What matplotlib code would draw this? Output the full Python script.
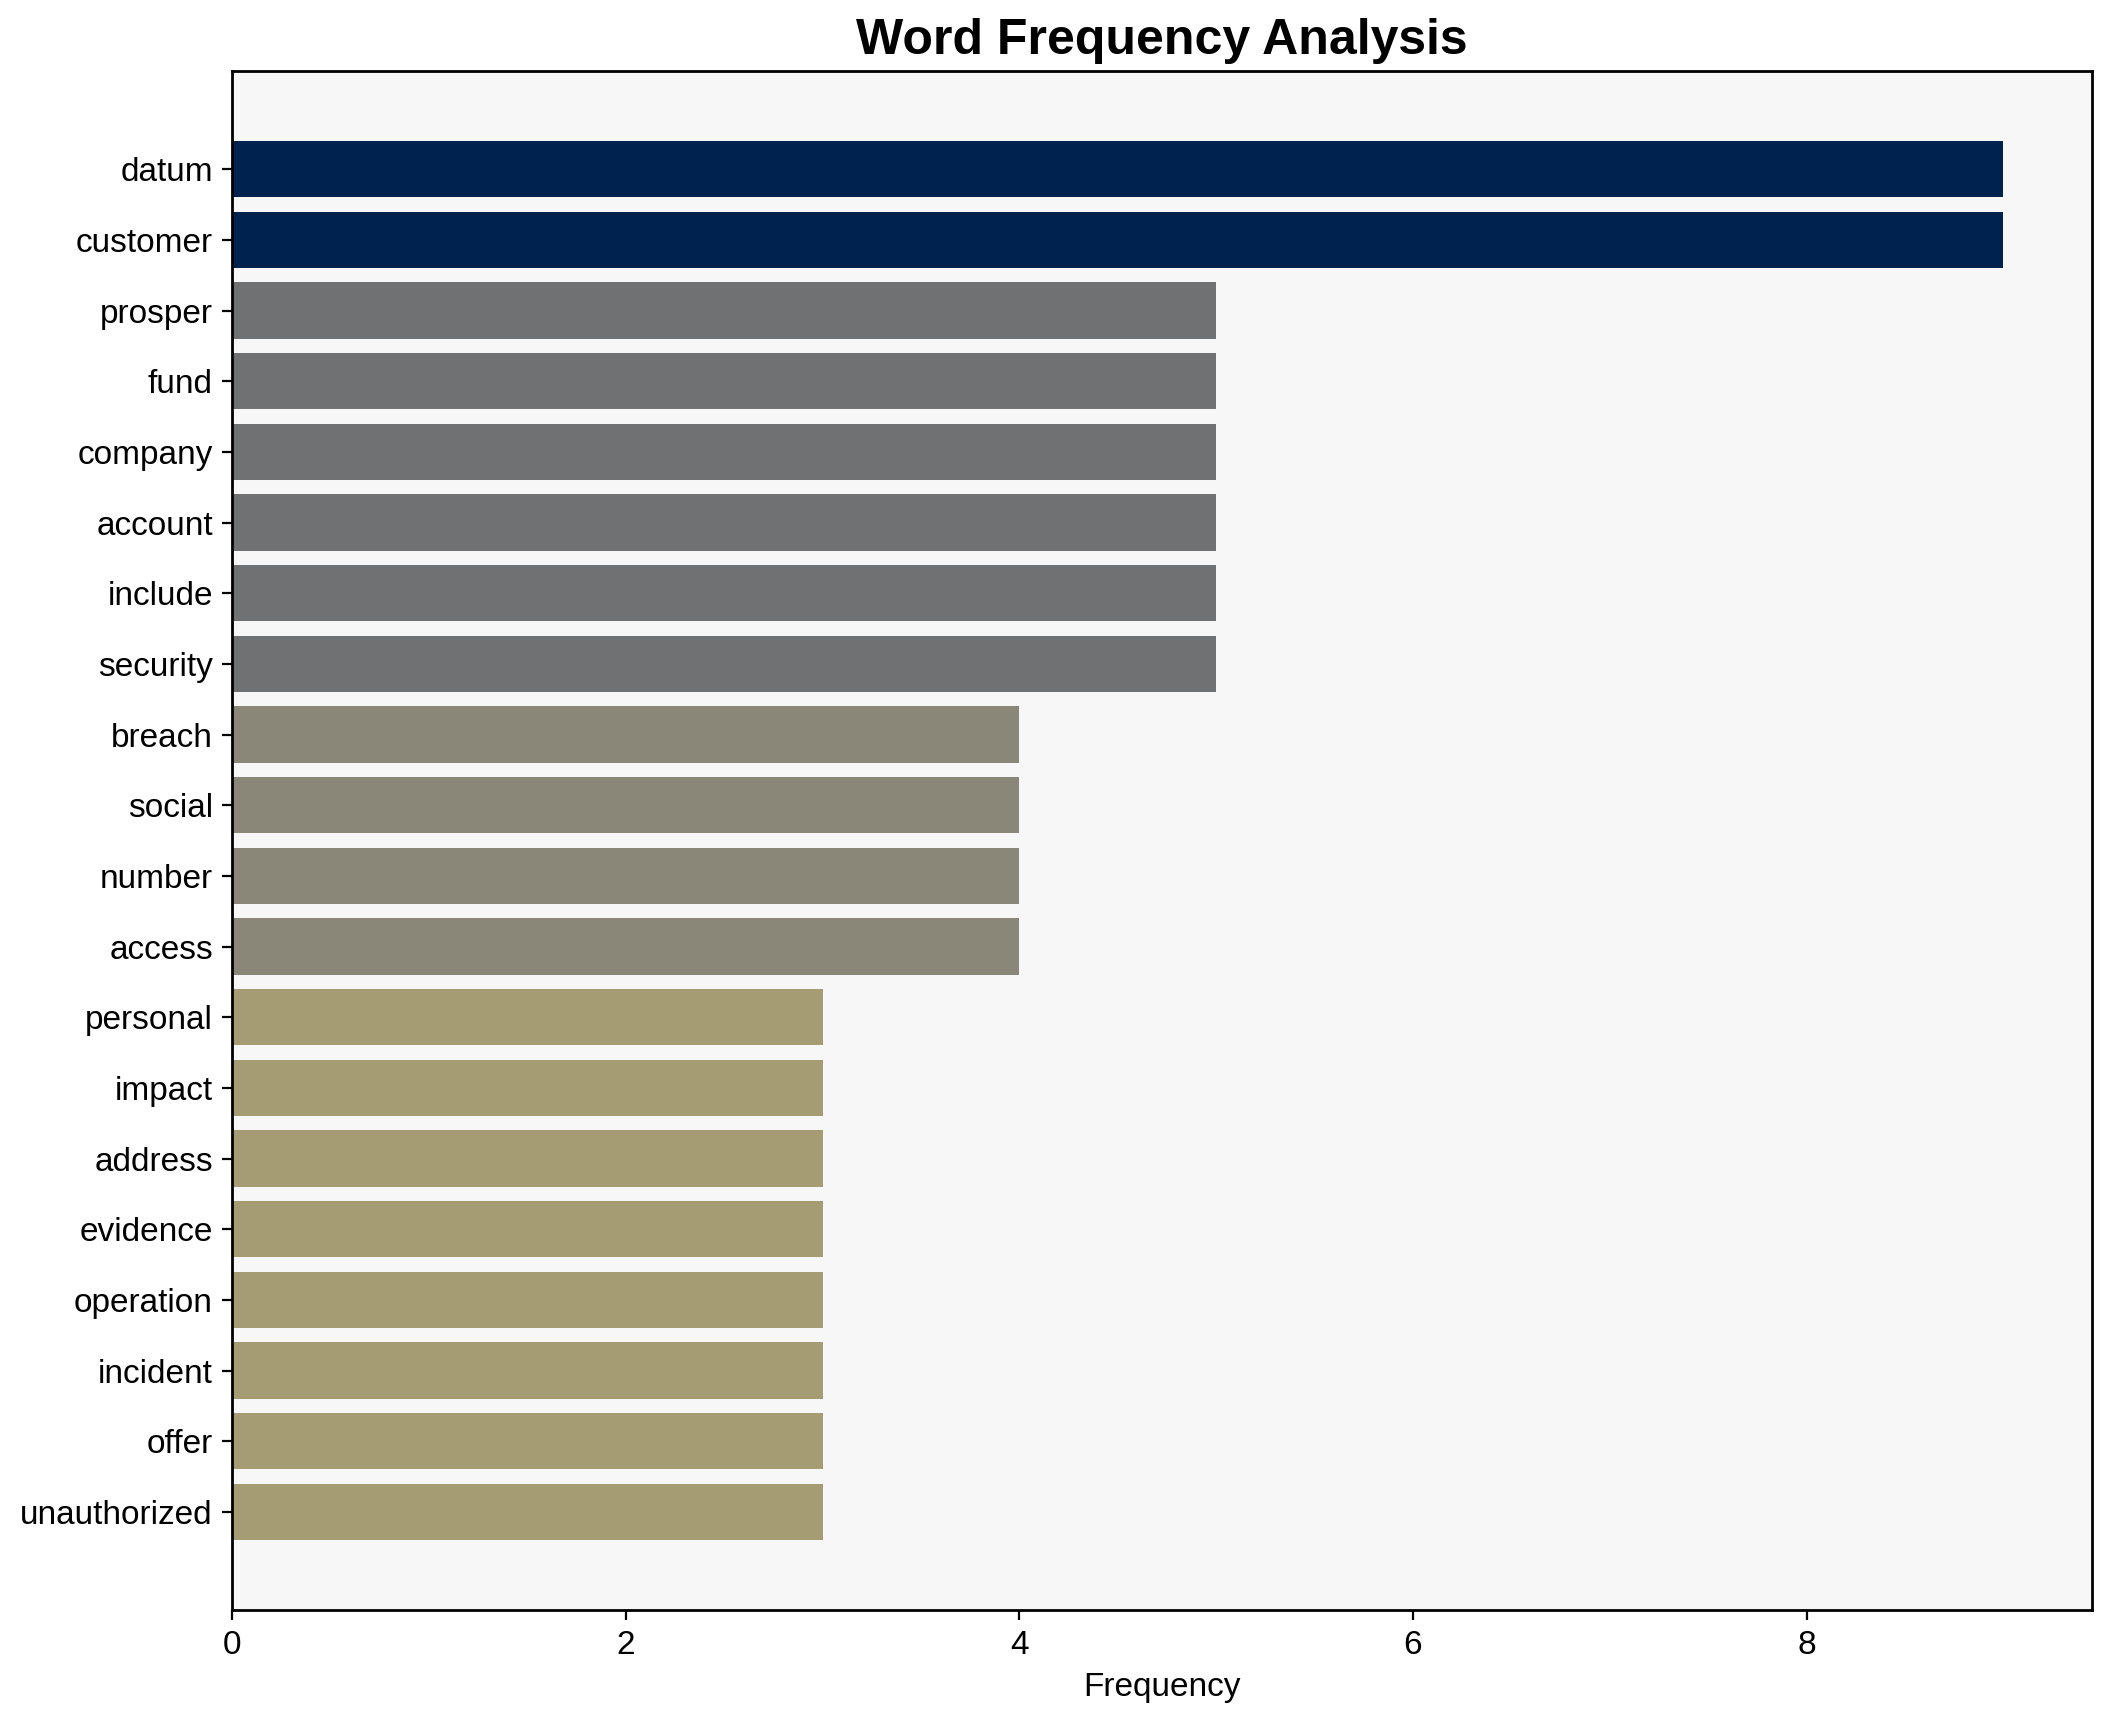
import matplotlib
matplotlib.use("Agg")
import matplotlib.pyplot as plt
import numpy as np

plt.rcParams['font.family'] = ['Liberation Sans', 'DejaVu Sans']

# palabras y frecuencias
palabras = ["datum", "customer", "prosper", "fund", "company", "account", "include",
            "security", "breach", "social", "number", "access", "personal", "impact",
            "address", "evidence", "operation", "incident", "offer", "unauthorized"]
frecuencias = [9, 9, 5, 5, 5, 5, 5, 5, 4, 4, 4, 4, 3, 3, 3, 3, 3, 3, 3, 3]

fig, ax = plt.subplots(figsize=(10.56, 8.61), dpi=200)
fig.subplots_adjust(left=0.110, right=0.9905, top=0.9588, bottom=0.065)

valores = np.array(frecuencias)
colores = plt.cm.cividis(1 - valores / valores.max())

y = np.arange(len(palabras))
ax.barh(y, valores, color=colores, height=0.8)
ax.set_yticks(y)
ax.set_yticklabels(palabras, fontsize=12)
ax.invert_yaxis()
ax.tick_params(axis='x', labelsize=12)
ax.set_facecolor("#f7f7f7")
for s in ax.spines.values():
    s.set_color("black")
    s.set_linewidth(1.0)

ax.set_xlabel("Frequency", fontsize=12)
ax.set_title("Word Frequency Analysis", fontsize=18, fontweight="bold", pad=6)

fig.savefig("out.png", dpi=200)
